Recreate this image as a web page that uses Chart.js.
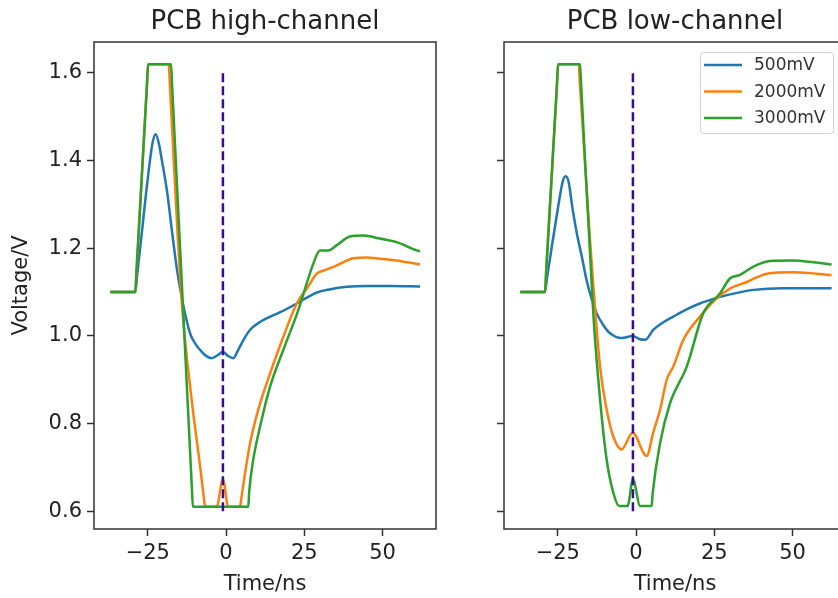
<!DOCTYPE html>
<html>
<head>
<meta charset="utf-8">
<script src="https://cdn.jsdelivr.net/npm/chart.js@4.4.1/dist/chart.umd.min.js"></script>
<style>
    html, body { margin: 0; padding: 0; background: #fff; overflow: hidden; }
    body { width: 838px; height: 598px; position: relative; }
    canvas { position: absolute; top: 0; }
    #highChart { left: 0; }
    #lowChart { left: 470px; }
</style>
</head>
<body>
<canvas id="highChart" width="470" height="598"></canvas>
<canvas id="lowChart" width="400" height="598"></canvas>
<script>
// axis ranges and ticks
const xTicks = [-25, 0, 25, 50];
const yTicks = [0.6, 0.8, 1.0, 1.2, 1.4, 1.6];
const xRange = [-42.2, 67.1];
const yRange = [0.5595, 1.6705];
const seriesLabels = ['500mV', '2000mV', '3000mV'];

// trigger marker (dashed vertical line)
const markerT = [-1, -1];
const markerV = [0.6, 1.6];

// PCB high-channel
const high500T = [-37, -29, -28.4, -27, -25, -23.5, -22.5, -21.5, -20.5, -18.9, -17.3, -15.8, -14.6, -13.6, -11.5, -9.8, -8.3, -6.5, -4.6, -2.5, -1, 0.5, 2.3, 3.9, 5.5, 7.7, 10.5, 14.1, 17.3, 22.6, 26, 29, 33, 38.6, 45, 52.4, 62];
const high500V = [1.10, 1.10, 1.14, 1.23, 1.36, 1.44, 1.46, 1.44, 1.40, 1.332, 1.24, 1.157, 1.105, 1.067, 1.006, 0.982, 0.968, 0.955, 0.949, 0.957, 0.964, 0.955, 0.949, 0.968, 0.99, 1.014, 1.03, 1.044, 1.054, 1.074, 1.088, 1.099, 1.106, 1.112, 1.114, 1.114, 1.113];
const high2000T = [-37, -29, -28.6, -25.3, -24.9, -18.3, -18, -14.2, -11, -8.3, -7, -6.7, -3, -1, 0.7, 4.5, 4.8, 6.1, 7.7, 10.3, 14.1, 18.3, 22.6, 26, 29, 31.6, 35.4, 40.7, 45, 49.2, 55.6, 62];
const high2000V = [1.10, 1.10, 1.15, 1.57, 1.62, 1.62, 1.58, 1.082, 0.855, 0.703, 0.625, 0.61, 0.61, 0.673, 0.61, 0.61, 0.625, 0.688, 0.756, 0.832, 0.915, 0.998, 1.074, 1.11, 1.142, 1.15, 1.161, 1.177, 1.179, 1.176, 1.171, 1.163];
const high3000T = [-37, -29, -28.6, -25.3, -24.9, -17.6, -17.3, -10.9, -10.6, 7.1, 7.4, 8.7, 10.9, 14.1, 18.3, 23.1, 27.9, 30, 32.7, 35.4, 39.6, 43.9, 49.2, 54.5, 60.9, 62];
const high3000V = [1.10, 1.10, 1.15, 1.57, 1.62, 1.62, 1.58, 0.65, 0.61, 0.61, 0.645, 0.718, 0.794, 0.885, 0.968, 1.059, 1.165, 1.195, 1.195, 1.207, 1.227, 1.229, 1.222, 1.214, 1.195, 1.193];

// PCB low-channel
const low500T = [-37, -29.1, -28.5, -27, -25, -23.5, -22.5, -21.5, -20.5, -18.9, -17.3, -15.8, -14.2, -12.6, -10.5, -8.3, -4.6, -1, 1, 2.9, 5.5, 8.5, 11.9, 16, 20.4, 25, 29, 37.5, 47, 62.5];
const low500V = [1.10, 1.10, 1.13, 1.20, 1.29, 1.35, 1.364, 1.35, 1.30, 1.233, 1.18, 1.127, 1.085, 1.052, 1.025, 1.006, 0.995, 1.0, 0.993, 0.991, 1.014, 1.03, 1.044, 1.06, 1.074, 1.085, 1.093, 1.105, 1.109, 1.109];
const low2000T = [-37, -29.1, -28.7, -25.3, -24.9, -18.3, -18, -14.7, -11.5, -9.4, -7.3, -4.6, -1.1, 3.4, 5.5, 7.7, 9.8, 11.9, 15.1, 20.4, 25.8, 30, 35.4, 41.8, 50.3, 62.5];
const low2000V = [1.10, 1.10, 1.15, 1.57, 1.62, 1.62, 1.58, 1.218, 0.93, 0.832, 0.771, 0.741, 0.779, 0.726, 0.78, 0.832, 0.9, 0.93, 0.991, 1.044, 1.086, 1.108, 1.123, 1.142, 1.145, 1.139];
const low3000T = [-37, -29.1, -28.7, -25.3, -24.9, -17.9, -17.6, -13.6, -11.5, -9.4, -7.3, -5.4, -2.7, -1, 1.3, 5, 5.3, 7.7, 10.9, 16.2, 21.5, 26.8, 30, 33.2, 37.5, 42.8, 50.3, 56.7, 62.5];
const low3000V = [1.10, 1.10, 1.15, 1.57, 1.62, 1.62, 1.58, 1.044, 0.855, 0.718, 0.643, 0.612, 0.612, 0.673, 0.612, 0.612, 0.64, 0.756, 0.847, 0.93, 1.052, 1.097, 1.131, 1.139, 1.158, 1.171, 1.172, 1.168, 1.163];

const FONT = 'DejaVu Sans';
const TEXT = '#222';
const FRAME = '#333';
const colors = ['#1f77b4', '#ff7f0e', '#2ca02c'];
const markerColor = '#3b0a8f';

const toPoints = (ts, vs) => ts.map((t, i) => ({ x: t, y: vs[i] }));

// box around the plotting area
const panelFrame = {
    id: 'panelFrame',
    afterDatasetsDraw(chart) {
        const { ctx, chartArea: a } = chart;
        ctx.save();
        ctx.strokeStyle = FRAME;
        ctx.lineWidth = 1.5;
        ctx.strokeRect(a.left, a.top, a.right - a.left, a.bottom - a.top);
        ctx.restore();
    }
};

// title centred over the plot area (not the canvas)
const panelTitle = {
    id: 'panelTitle',
    afterDraw(chart, args, opts) {
        const { ctx, chartArea: a } = chart;
        ctx.save();
        ctx.fillStyle = TEXT;
        ctx.font = '26px "' + FONT + '"';
        ctx.textAlign = 'center';
        ctx.textBaseline = 'alphabetic';
        ctx.fillText(opts.text, (a.left + a.right) / 2, 29);
        ctx.restore();
    }
};

// matplotlib-like legend in the upper right corner
const cornerLegend = {
    id: 'cornerLegend',
    afterDraw(chart, args, opts) {
        if (!opts.show) return;
        const { ctx, chartArea: a } = chart;
        const w = 133, h = 81;
        const x0 = a.right - 13 - w, y0 = a.top + 10;
        ctx.save();
        ctx.fillStyle = 'rgba(255,255,255,0.8)';
        ctx.strokeStyle = '#d0d0d0';
        ctx.lineWidth = 1;
        ctx.beginPath();
        ctx.roundRect(x0 + 0.5, y0 + 0.5, w, h, 3);
        ctx.fill();
        ctx.stroke();
        ctx.font = '17px "' + FONT + '"';
        ctx.textBaseline = 'middle';
        ctx.textAlign = 'left';
        chart.data.datasets.filter(d => d.label).forEach((d, i) => {
            const y = y0 + 13 + i * 26.5;
            ctx.strokeStyle = d.borderColor;
            ctx.lineWidth = 2.5;
            ctx.beginPath();
            ctx.moveTo(x0 + 4, y);
            ctx.lineTo(x0 + 42, y);
            ctx.stroke();
            ctx.fillStyle = '#333';
            ctx.fillText(d.label, x0 + 54, y + 1);
        });
        ctx.restore();
    }
};

function makeDatasets(series) {
    const sets = series.map((s, i) => ({
        label: seriesLabels[i],
        data: toPoints(s[0], s[1]),
        borderColor: colors[i],
        borderWidth: 2.5,
        borderJoinStyle: 'round',
        pointRadius: 0,
        cubicInterpolationMode: 'monotone',
        order: 3 - i
    }));
    sets.push({
        label: '',
        data: toPoints(markerT, markerV),
        borderColor: markerColor,
        borderWidth: 2.5,
        borderDash: [9, 4],
        pointRadius: 0,
        order: 0
    });
    return sets;
}

function makeScales(yAxisWidth, showYLabels) {
    const tickFont = { family: FONT, size: 21 };
    return {
        x: {
            type: 'linear',
            min: xRange[0],
            max: xRange[1],
            afterBuildTicks: s => { s.ticks = xTicks.map(v => ({ value: v })); },
            afterFit: s => { s.height = 69; },
            ticks: {
                color: TEXT,
                font: tickFont,
                padding: 5,
                maxRotation: 0,
                callback: v => String(v).replace('-', '\u2212')
            },
            grid: { drawOnChartArea: false, tickLength: 7, tickColor: FRAME, tickWidth: 1.5 },
            border: { display: false },
            title: {
                display: true,
                text: 'Time/ns',
                color: TEXT,
                font: tickFont,
                padding: { top: 0, bottom: 1 }
            }
        },
        y: {
            type: 'linear',
            min: yRange[0],
            max: yRange[1],
            afterBuildTicks: s => { s.ticks = yTicks.map(v => ({ value: v })); },
            afterFit: s => { s.width = yAxisWidth; },
            ticks: {
                display: showYLabels,
                color: TEXT,
                font: tickFont,
                padding: 5,
                callback: v => v.toFixed(1)
            },
            grid: { drawOnChartArea: false, tickLength: 7, tickColor: FRAME, tickWidth: 1.5 },
            border: { display: false },
            title: {
                display: showYLabels,
                text: 'Voltage/V',
                color: TEXT,
                font: tickFont,
                padding: { top: 9, bottom: 0 }
            }
        }
    };
}

function renderPanel(canvasId, title, series, yAxisWidth, showYLabels, rightPad, showLegend) {
    const canvas = document.getElementById(canvasId);
    if (!canvas) return;
    return new Chart(canvas.getContext('2d'), {
        type: 'line',
        data: { datasets: makeDatasets(series) },
        options: {
            responsive: false,
            animation: false,
            devicePixelRatio: 1,
            layout: { padding: { top: 42, right: rightPad, bottom: 0, left: 0 } },
            plugins: {
                legend: { display: false },
                tooltip: { enabled: false },
                panelTitle: { text: title },
                cornerLegend: { show: showLegend }
            },
            scales: makeScales(yAxisWidth, showYLabels)
        },
        plugins: [panelFrame, panelTitle, cornerLegend]
    });
}

renderPanel('highChart', 'PCB high-channel',
    [[high500T, high500V], [high2000T, high2000V], [high3000T, high3000V]],
    94, true, 34, false);

renderPanel('lowChart', 'PCB low-channel',
    [[low500T, low500V], [low2000T, low2000V], [low3000T, low3000V]],
    34, false, 24, true);
</script>
</body>
</html>
